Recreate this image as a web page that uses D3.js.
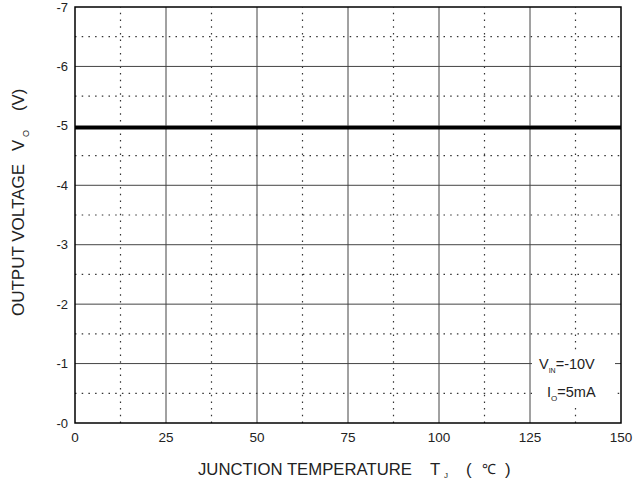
<!DOCTYPE html>
<html>
<head>
<meta charset="utf-8">
<script src="https://cdn.jsdelivr.net/npm/d3@7"></script>
<style>
  body { margin: 0; background: #fff; }
  svg { display: block; }
  text { font-family: "Liberation Sans", Arial, sans-serif; fill: #222; }
</style>
</head>
<body>
<div id="chart"></div>
<script>
(function () {
  'use strict';

  var xTicks = [0, 25, 50, 75, 100, 125, 150],
      yTicks = [0, -1, -2, -3, -4, -5, -6, -7],
      yLabels = ['-0', '-1', '-2', '-3', '-4', '-5', '-6', '-7'],
      tempC = [0, 25, 50, 75, 100, 125, 150],
      voltOut = [-4.97, -4.97, -4.97, -4.97, -4.97, -4.97, -4.97];

  var w = 634, h = 482,
      m = {left: 75, right: 13, top: 7, bottom: 59};

  var svg = d3.select('#chart').append('svg')
    .attr('width', w).attr('height', h);

  var x = d3.scaleLinear().domain([0, 150]).range([m.left, w - m.right]);
  var y = d3.scaleLinear().domain([0, -7]).range([h - m.bottom, m.top]);

  // minor dotted grid
  var minorX = d3.range(12.5, 150, 25);
  var minorY = d3.range(-0.5, -7, -1);
  svg.selectAll('.mx').data(minorX).enter().append('line')
    .attr('x1', function (d) { return x(d); }).attr('x2', function (d) { return x(d); })
    .attr('y1', y(0)).attr('y2', y(-7))
    .attr('stroke', '#333').attr('stroke-width', 1.2)
    .attr('stroke-dasharray', '1.5,5.2');
  svg.selectAll('.my').data(minorY).enter().append('line')
    .attr('y1', function (d) { return y(d); }).attr('y2', function (d) { return y(d); })
    .attr('x1', x(0)).attr('x2', x(150))
    .attr('stroke', '#333').attr('stroke-width', 1.2)
    .attr('stroke-dasharray', '1.5,5.2');

  // major grid
  svg.selectAll('.gx').data(xTicks.slice(1, -1)).enter().append('line')
    .attr('x1', function (d) { return x(d); }).attr('x2', function (d) { return x(d); })
    .attr('y1', y(0)).attr('y2', y(-7))
    .attr('stroke', '#444').attr('stroke-width', 1);
  svg.selectAll('.gy').data(yTicks.slice(1, -1)).enter().append('line')
    .attr('y1', function (d) { return y(d); }).attr('y2', function (d) { return y(d); })
    .attr('x1', x(0)).attr('x2', x(150))
    .attr('stroke', '#444').attr('stroke-width', 1);

  // legend box
  var lg = svg.append('g');
  lg.append('rect')
    .attr('x', 532).attr('y', 350).attr('width', 83).attr('height', 58)
    .attr('fill', '#fff');
  var t1 = lg.append('text').attr('x', 539).attr('y', 369).attr('font-size', 14.5);
  t1.append('tspan').text('V');
  t1.append('tspan').attr('font-size', 7).attr('dy', 4).text('IN');
  t1.append('tspan').attr('dy', -4).text('=-10V');
  var t2 = lg.append('text').attr('x', 547).attr('y', 397).attr('font-size', 14.5);
  t2.append('tspan').text('I');
  t2.append('tspan').attr('font-size', 8).attr('dy', 4).text('O');
  t2.append('tspan').attr('dy', -4).text('=5mA');

  // data line
  var line = d3.line()
    .x(function (d, i) { return x(tempC[i]); })
    .y(function (d) { return y(d); });
  svg.append('path')
    .attr('d', line(voltOut))
    .attr('fill', 'none').attr('stroke', '#000').attr('stroke-width', 3.5);

  // frame
  svg.append('rect')
    .attr('x', x(0)).attr('y', y(-7))
    .attr('width', x(150) - x(0)).attr('height', y(0) - y(-7))
    .attr('fill', 'none').attr('stroke', '#000').attr('stroke-width', 1.5);

  // axes labels
  svg.selectAll('.xl').data(xTicks).enter().append('text')
    .attr('x', function (d) { return x(d); }).attr('y', h - m.bottom + 19)
    .attr('text-anchor', 'middle').attr('font-size', 13.5)
    .text(function (d) { return d; });
  svg.selectAll('.yl').data(yTicks).enter().append('text')
    .attr('x', m.left - 7).attr('y', function (d) { return y(d) + 4.5; })
    .attr('text-anchor', 'end').attr('font-size', 13)
    .text(function (d, i) { return yLabels[i]; });

  // x title
  var xt = svg.append('g').attr('font-size', 16.8);
  xt.append('text').attr('x', 198).attr('y', 475)
    .attr('textLength', 214).attr('lengthAdjust', 'spacingAndGlyphs')
    .text('JUNCTION TEMPERATURE');
  xt.append('text').attr('x', 430).attr('y', 475).text('T');
  xt.append('text').attr('x', 444).attr('y', 478).attr('font-size', 8).text('J');
  xt.append('text').attr('x', 466).attr('y', 475).text('(');
  xt.append('text').attr('x', 482).attr('y', 474).attr('font-size', 14).text('\u2103');
  xt.append('text').attr('x', 505).attr('y', 475).text(')');

  // y title
  var yt = svg.append('g').attr('font-size', 16.8);
  yt.append('text').attr('transform', 'translate(24,316) rotate(-90)')
    .attr('textLength', 152).attr('lengthAdjust', 'spacingAndGlyphs')
    .text('OUTPUT VOLTAGE');
  yt.append('text').attr('transform', 'translate(24,151) rotate(-90)').text('V');
  yt.append('text').attr('transform', 'translate(29,137) rotate(-90)')
    .attr('font-size', 9).text('O');
  yt.append('text').attr('transform', 'translate(24,111) rotate(-90)').text('(V)');
}());
</script>
</body>
</html>
